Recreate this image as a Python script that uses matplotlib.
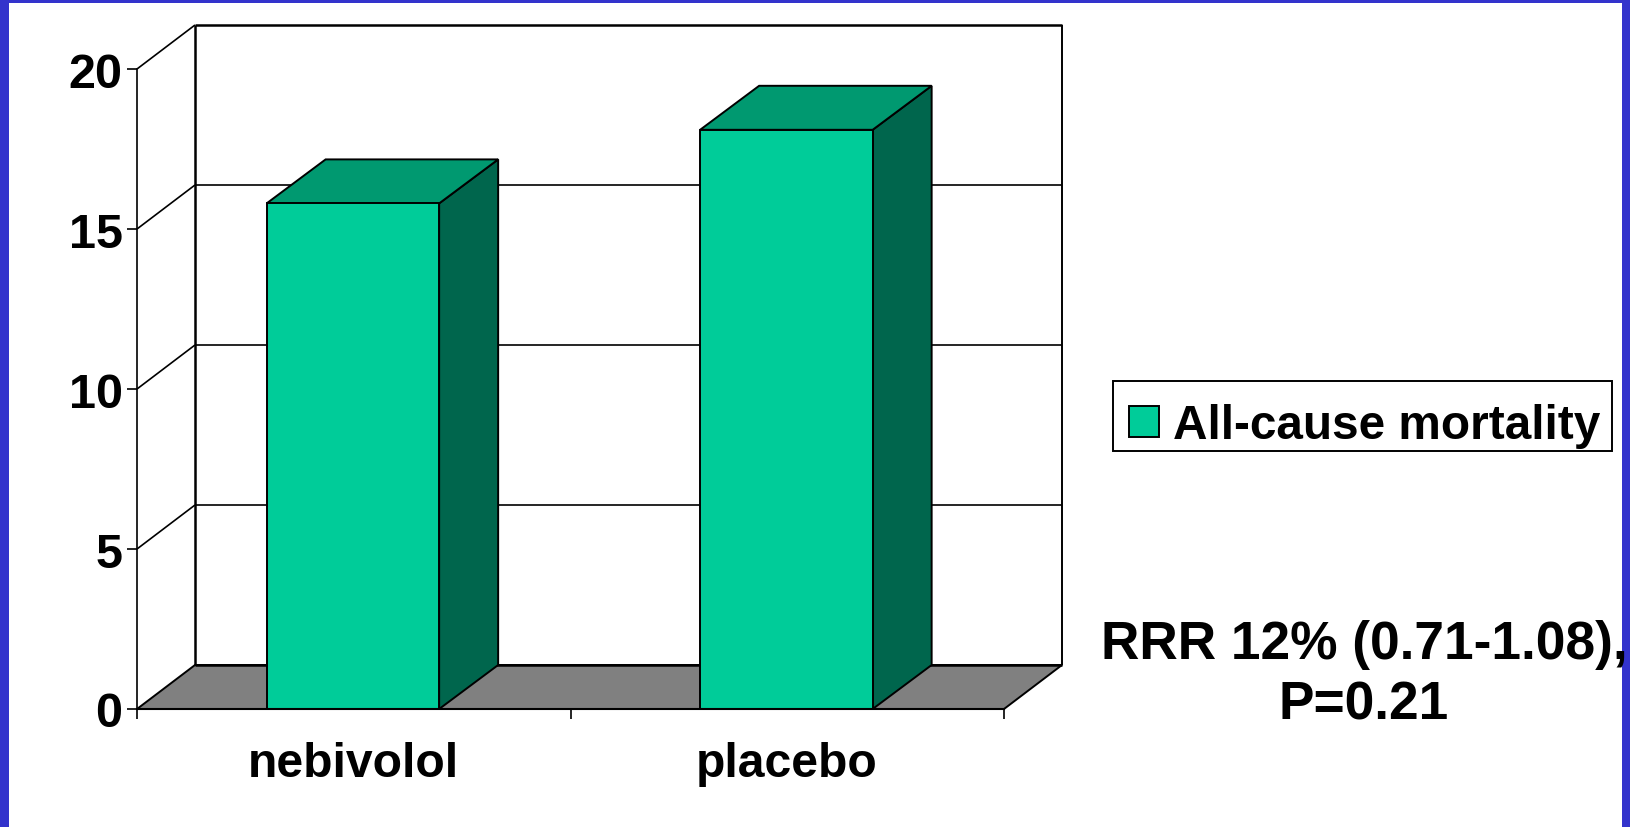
import matplotlib
matplotlib.use('Agg')
import matplotlib.pyplot as plt
from matplotlib.patches import Polygon, Rectangle

categories = ['nebivolol', 'placebo']
mortality = [15.8, 18.1]
y_ticks = [0, 5, 10, 15, 20]
legend_label = 'All-cause mortality'
note = 'RRR 12% (0.71-1.08),\nP=0.21'

W, H = 1630, 828
BLUE = '#3333CC'
FRONT = '#00CC99'
TOP = '#009970'
SIDE = '#00664D'
FLOOR = '#808080'

plt.rcParams['font.family'] = ['Liberation Sans', 'DejaVu Sans']
plt.rcParams['font.weight'] = 'bold'

fig = plt.figure(figsize=(W / 100, H / 100), dpi=100, facecolor=BLUE)
fig.patches.append(Rectangle((9 / W, 0), (W - 17) / W, (H - 4) / H, transform=fig.transFigure,
                             facecolor='white', edgecolor='none', zorder=-10))

# front plane of the 3d box, in pixels
left, right, y0, y20 = 137, 1004, 710, 70
ax = fig.add_axes([left / W, 1 - y0 / H, (right - left) / W, (y0 - y20) / H])
ax.patch.set_visible(False)
ax.set_xlim(0, 2)
ax.set_ylim(0, 20)

# depth of the fake 3d, in data units
dx = 58 / ((right - left) / 2)
dy = 44 / ((y0 - y20) / 20)
bar_dx = 59 / ((right - left) / 2)


def poly(pts, fc, z, lw=1.4):
    ax.add_patch(Polygon(pts, closed=True, facecolor=fc, edgecolor='black', linewidth=lw,
                         clip_on=False, zorder=z, joinstyle='miter'))


def line(xs, ys, lw=1.2, z=2):
    ax.plot(xs, ys, color='black', linewidth=lw, clip_on=False, zorder=z, solid_capstyle='butt')


# floor and walls
poly([(0, 0), (dx, dy), (2 + dx, dy), (2, 0)], FLOOR, 1)
line([dx, dx], [dy, 20 + dy], lw=1.8)
line([2 + dx, 2 + dx], [dy, 20 + dy], lw=1.4)
line([dx, 2 + dx], [dy, dy], lw=1.8)
for t in y_ticks[1:]:
    line([0, dx], [t, t + dy])
    line([dx, 2 + dx], [t + dy, t + dy], lw=1.8 if t == 20 else 1.2)

# bars
bar_w = 0.398
for i, v in enumerate(mortality):
    x1 = i + 0.498 - bar_w / 2
    x2 = x1 + bar_w
    poly([(x2, 0), (x2 + bar_dx, dy), (x2 + bar_dx, v + dy), (x2, v)], SIDE, 3)
    poly([(x1, v), (x1 + bar_dx, v + dy), (x2 + bar_dx, v + dy), (x2, v)], TOP, 3)
    ax.bar(i + 0.498, v, width=bar_w, color=FRONT, edgecolor='black', linewidth=1.4, zorder=4,
           label=legend_label if i == 0 else None)

# axes
for s in ['top', 'right']:
    ax.spines[s].set_visible(False)
ax.spines['left'].set_linewidth(1.2)
ax.spines['bottom'].set_linewidth(1.5)
ax.spines['bottom'].set_zorder(5)
ax.set_yticks(y_ticks)
ax.set_xticks([0, 1, 2])
ax.set_xticklabels([])
ax.set_xticks([0.498, 1.498], minor=True)
ax.set_xticklabels(categories, minor=True, fontsize=34.7, fontweight='bold')
ax.tick_params(axis='y', length=7.2, width=1.2, pad=3.2, labelsize=35)
ax.tick_params(axis='x', which='major', length=7.2, width=1.2)
ax.tick_params(axis='x', which='minor', length=0, pad=23.2)
for lab in ax.get_yticklabels():
    lab.set_verticalalignment('center_baseline')

# legend text sits low in its box, so the frame is drawn on its own
fig.patches.append(Rectangle((1113 / W, 1 - 452 / H), 499 / W, 70 / H, transform=fig.transFigure,
                             facecolor='white', edgecolor='black', linewidth=1.4, zorder=5))
leg = fig.legend(loc='center', bbox_to_anchor=(1365 / W, 1 - 426.5 / H),
                 fontsize=34.4, frameon=False,
                 handlelength=0.62, handleheight=0.62, handletextpad=0.3,
                 borderpad=0.31, borderaxespad=0)
leg.set_zorder(6)

fig.text(1364 / W, 1 - 675.5 / H, note, ha='center', va='center', fontsize=38.3, fontweight='bold',
         linespacing=1.275, zorder=6)

fig.savefig('out.png', dpi=100, facecolor=fig.get_facecolor())
